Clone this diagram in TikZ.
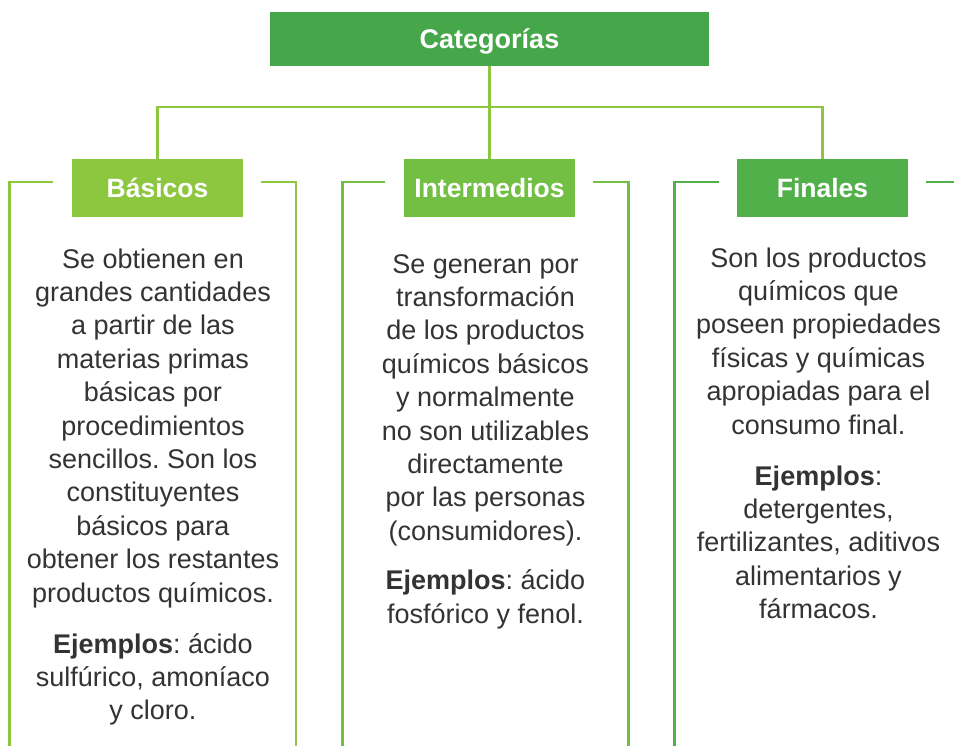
\documentclass[tikz,border=0pt]{standalone}
\usepackage{fontspec}
\setmainfont{Liberation Sans}
\frenchspacing
\definecolor{catgreen}{RGB}{70,167,74}
\definecolor{basgreen}{RGB}{141,198,63}
\definecolor{intgreen}{RGB}{114,191,68}
\definecolor{fingreen}{RGB}{81,176,74}
\definecolor{txt}{RGB}{52,50,50}
\tikzset{
  catbox/.style={fill=catgreen, minimum width=439pt, minimum height=54pt, inner sep=0pt,
    text depth=0pt, text=white, font=\fontsize{27}{30}\selectfont\bfseries},
  headbox/.style={minimum width=171pt, minimum height=57.5pt, inner sep=0pt,
    text depth=0pt, text=white, font=\fontsize{26.5}{30}\selectfont\bfseries},
  body/.style={align=center, inner sep=0pt, anchor=north, text=txt,
    font=\fontsize{27}{33.4}\selectfont},
  link/.style={draw=basgreen, line width=2.7pt},
  frameline/.style={line width=2.7pt, line join=miter},
}
\begin{document}
\begin{tikzpicture}[x=1pt,y=-1pt]
\useasboundingbox (0,0) rectangle (954,746);
\clip (0,0) rectangle (954,746);

% header boxes
\node[catbox] (cat) at (489.5,39) {Categorías};
\node[headbox, fill=basgreen] (bas) at (157.5,188) {Básicos};
\node[headbox, fill=intgreen] (int) at (489.5,188) {Intermedios};
\node[headbox, fill=fingreen] (fin) at (822.5,188) {Finales};

% connectors
\draw[link] (bas.north) -- ++(0,-52) -| (fin.north);
\draw[link] (cat.south) -- (int.north);

% frames
\draw[frameline, draw=basgreen] (53,182) -- (9.5,182) -- (9.5,760);
\draw[frameline, draw=basgreen] (261,182) -- (296,182) -- (296,760);
\draw[frameline, draw=intgreen] (385,182) -- (342.5,182) -- (342.5,760);
\draw[frameline, draw=intgreen] (593,182) -- (628.5,182) -- (628.5,760);
\draw[frameline, draw=fingreen] (719,182) -- (674.5,182) -- (674.5,760);
\draw[frameline, draw=fingreen] (926,182) -- (960,182);

% body texts
\node[body] (basdesc) at (153,244.6) {\strut Se obtienen en\\grandes cantidades\\a partir de las\\materias primas\\básicas por\\procedimientos\\sencillos. Son los\\constituyentes\\básicos para\\obtener los restantes\\productos químicos.};
\node[body] (basej) at (153,629.6) {\strut{\bfseries Ejemplos}: ácido\\sulfúrico, amoníaco\\y cloro.};

\node[body] (intdesc) at (485.5,249.6) {\strut Se generan por\\transformación\\de los productos\\químicos básicos\\y normalmente\\no son utilizables\\directamente\\por las personas\\(consumidores).};
\node[body] (intej) at (485.5,566.1) {\strut{\bfseries Ejemplos}: ácido\\fosfórico y fenol.};

\node[body] (findesc) at (818.5,243.6) {\strut Son los productos\\químicos que\\poseen propiedades\\físicas y químicas\\apropiadas para el\\consumo final.};
\node[body] (finej) at (818.5,461.6) {\strut{\bfseries Ejemplos}:\\detergentes,\\fertilizantes, aditivos\\alimentarios y\\fármacos.};
\end{tikzpicture}
\end{document}
